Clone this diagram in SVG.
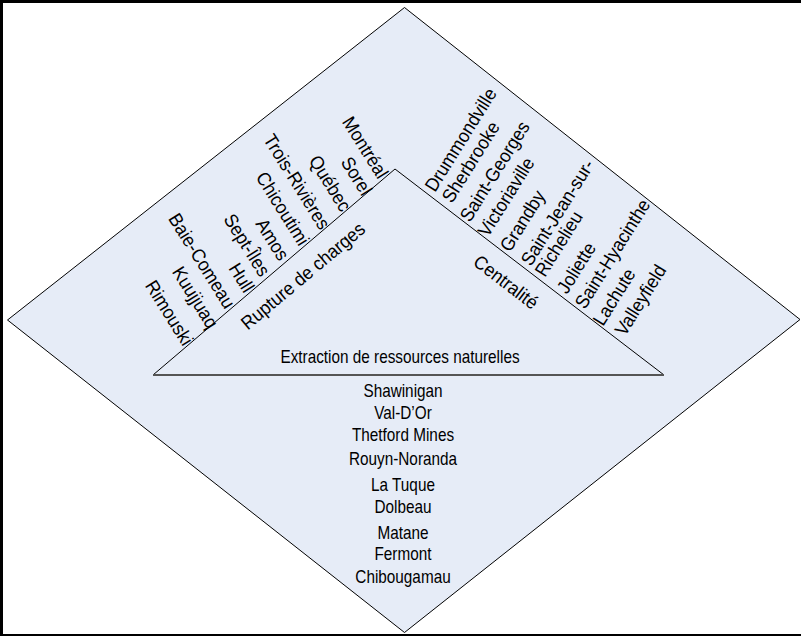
<svg xmlns="http://www.w3.org/2000/svg" width="801" height="636" viewBox="0 0 801 636">
  <style>
    .lbl { font-family: "Liberation Sans", Arial, sans-serif; fill: #000; }
    .h { font-size: 17.5px; text-anchor: middle; }
    .r { font-size: 19px; }
    .end { text-anchor: end; }
    .start { text-anchor: start; }
    .mid { text-anchor: middle; }
  </style>

  <!-- page frame -->
  <rect x="1.5" y="1.5" width="801" height="634" fill="#fff" stroke="#000" stroke-width="3"/>

  <!-- outer diamond -->
  <g id="diamond">
    <polygon points="404.5,7.5 800,319.5 404.5,632.5 7.5,320" fill="#e6ecf7" stroke="#000" stroke-width="1"/>
  </g>

  <!-- inner triangle -->
  <g id="triangle">
    <polyline points="153,375 395,169 664,375" fill="none" stroke="#000" stroke-width="1"/>
    <line x1="153" y1="375" x2="664" y2="375" stroke="#555" stroke-width="2"/>
    <text class="lbl h" transform="translate(400,363) scale(0.875,1)">Extraction de ressources naturelles</text>
  </g>

  <!-- left side: transshipment cities -->
  <g id="rupture">
    <text class="lbl r mid" transform="translate(303,276) rotate(-40) scale(0.93,1)" y="6.5">Rupture de charges</text>
    <text class="lbl r end" transform="translate(378,180) rotate(58) scale(0.93,1)">Montréal</text>
    <text class="lbl r end" transform="translate(362,197) rotate(58) scale(0.93,1)">Sorel</text>
    <text class="lbl r end" transform="translate(341,213) rotate(58) scale(0.93,1)">Québec</text>
    <text class="lbl r end" transform="translate(320,231) rotate(58) scale(0.93,1)">Trois-Rivières</text>
    <text class="lbl r end" transform="translate(299,247) rotate(58) scale(0.93,1)">Chicoutimi</text>
    <text class="lbl r end" transform="translate(279,262) rotate(58) scale(0.93,1)">Amos</text>
    <text class="lbl r end" transform="translate(260,278) rotate(58) scale(0.93,1)">Sept-Îles</text>
    <text class="lbl r end" transform="translate(244,294) rotate(58) scale(0.93,1)">Hull</text>
    <text class="lbl r end" transform="translate(225,310) rotate(58) scale(0.93,1)">Baie-Comeau</text>
    <text class="lbl r end" transform="translate(208,330) rotate(58) scale(0.93,1)">Kuujjuaq</text>
    <text class="lbl r end" transform="translate(183,347) rotate(58) scale(0.93,1)">Rimouski</text>
  </g>

  <!-- right side: central places -->
  <g id="centralite">
    <text class="lbl r mid" transform="translate(506,282) rotate(37.5) scale(0.93,1)" y="6.5">Centralité</text>
    <text class="lbl r start" transform="translate(435,193) rotate(-58) scale(0.93,1)">Drummondville</text>
    <text class="lbl r start" transform="translate(452,204) rotate(-58) scale(0.93,1)">Sherbrooke</text>
    <text class="lbl r start" transform="translate(470,223) rotate(-58) scale(0.93,1)">Saint-Georges</text>
    <text class="lbl r start" transform="translate(488,238) rotate(-58) scale(0.93,1)">Victoriaville</text>
    <text class="lbl r start" transform="translate(510,253) rotate(-58) scale(0.93,1)">Grandby</text>
    <text class="lbl r start" transform="translate(531,267) rotate(-58) scale(0.93,1)">Saint-Jean-sur-</text>
    <text class="lbl r start" transform="translate(545,278) rotate(-58) scale(0.93,1)">Richelieu</text>
    <text class="lbl r start" transform="translate(567,295) rotate(-58) scale(0.93,1)">Joliette</text>
    <text class="lbl r start" transform="translate(585,310) rotate(-58) scale(0.93,1)">Saint-Hyacinthe</text>
    <text class="lbl r start" transform="translate(603,327) rotate(-58) scale(0.93,1)">Lachute</text>
    <text class="lbl r start" transform="translate(625,337) rotate(-58) scale(0.93,1)">Valleyfield</text>
  </g>

  <!-- bottom: resource towns -->
  <g id="extraction">
    <text class="lbl h" transform="translate(403,397) scale(0.875,1)">Shawinigan</text>
    <text class="lbl h" transform="translate(403,419.3) scale(0.875,1)">Val-D’Or</text>
    <text class="lbl h" transform="translate(403,441.3) scale(0.875,1)">Thetford Mines</text>
    <text class="lbl h" transform="translate(403,465.3) scale(0.875,1)">Rouyn-Noranda</text>
    <text class="lbl h" transform="translate(403,491.3) scale(0.875,1)">La Tuque</text>
    <text class="lbl h" transform="translate(403,513.3) scale(0.875,1)">Dolbeau</text>
    <text class="lbl h" transform="translate(403,539.3) scale(0.875,1)">Matane</text>
    <text class="lbl h" transform="translate(403,560.3) scale(0.875,1)">Fermont</text>
    <text class="lbl h" transform="translate(403,583.3) scale(0.875,1)">Chibougamau</text>
  </g>
</svg>
